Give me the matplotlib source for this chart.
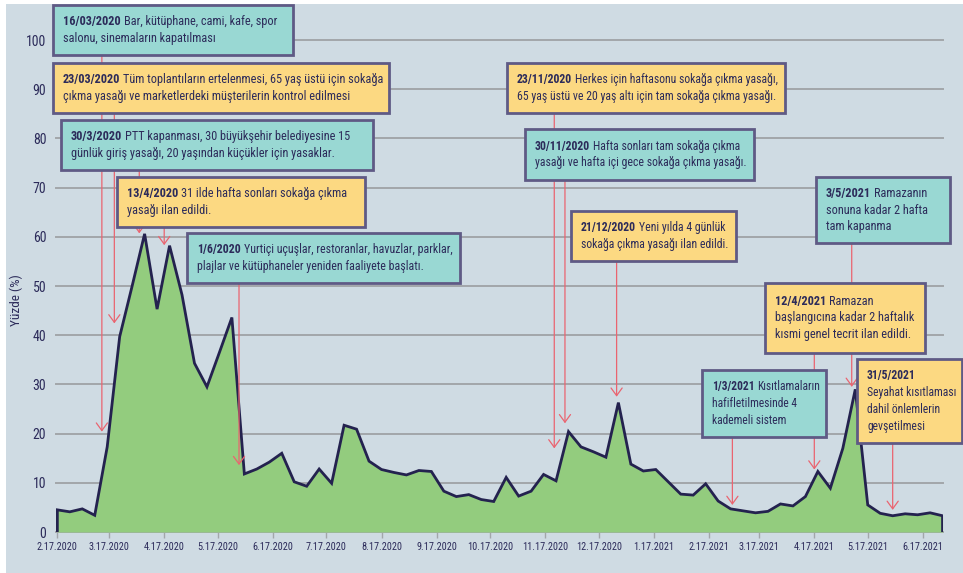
import numpy as np
import pandas as pd
import matplotlib
matplotlib.use("Agg")
import matplotlib.pyplot as plt
from matplotlib import font_manager
from matplotlib.patches import Rectangle

# -----------------------------------------------------------
# DATA (weekly)
# -----------------------------------------------------------
start_date = "2020-02-17"
values = [4.5, 4.1, 4.7, 3.4, 17.3, 39.7, 50.0, 60.6, 45.3, 58.2,
          48.2, 34.3, 29.5, 36.5, 43.6, 11.8, 12.8, 14.2, 16.0, 10.2,
          9.3, 12.8, 9.9, 21.7, 20.9, 14.4, 12.7, 12.1, 11.6, 12.5,
          12.3, 8.3, 7.2, 7.6, 6.6, 6.2, 11.1, 7.3, 8.3, 11.7,
          10.4, 20.4, 17.3, 16.3, 15.2, 26.3, 13.8, 12.4, 12.7, 10.2,
          7.7, 7.5, 9.8, 6.3, 4.7, 4.3, 3.9, 4.2, 5.7, 5.3,
          7.2, 12.3, 8.9, 17.0, 29.0, 5.5, 3.8, 3.3, 3.7, 3.5,
          3.9, 3.3]
yticks = list(range(0, 101, 10))

event_dates = ["16/03/2020", "23/03/2020", "30/3/2020", "13/4/2020", "1/6/2020",
               "23/11/2020", "30/11/2020", "21/12/2020", "3/5/2021", "12/4/2021",
               "1/3/2021", "31/5/2021"]
event_lines = [
    ["Bar, kütüphane, cami, kafe, spor", "salonu, sinemaların kapatılması"],
    ["Tüm toplantıların ertelenmesi, 65 yaş üstü için sokağa",
     "çıkma yasağı ve marketlerdeki müşterilerin kontrol edilmesi"],
    ["PTT kapanması, 30 büyükşehir belediyesine 15",
     "günlük giriş yasağı, 20 yaşından küçükler için yasaklar."],
    ["31 ilde hafta sonları sokağa çıkma", "yasağı ilan edildi."],
    ["Yurtiçi uçuşlar, restoranlar, havuzlar, parklar,",
     "plajlar ve kütüphaneler yeniden faaliyete başlatı."],
    ["Herkes için haftasonu sokağa çıkma yasağı,",
     "65 yaş üstü ve 20 yaş altı için tam sokağa çıkma yasağı."],
    ["Hafta sonları tam sokağa çıkma", "yasağı ve hafta içi gece sokağa çıkma yasağı."],
    ["Yeni yılda 4 günlük", "sokağa çıkma yasağı ilan edildi."],
    ["Ramazanın", "sonuna kadar 2 hafta", "tam kapanma"],
    ["Ramazan", "başlangıcına kadar 2 haftalık", "kısmi genel tecrit ilan edildi."],
    ["Kısıtlamaların", "hafifletilmesinde 4", "kademeli sistem"],
    ["", "Seyahat kısıtlaması", "dahil önlemlerin", "gevşetilmesi"],
]
event_kind = ["teal", "yellow", "teal", "yellow", "teal", "yellow",
              "teal", "yellow", "teal", "yellow", "teal", "yellow"]
# where each pointer lands on the chart (date, %)
pointer_dates = ["2020-03-13", "2020-03-20", "2020-04-03", "2020-04-17", "2020-05-29",
                 "2020-11-22", "2020-11-28", "2020-12-27", "2021-05-08", "2021-04-17",
                 "2021-03-02", "2021-05-31"]
pointer_levels = [20.4, 42.4, 60.7, 58.3, 13.6, 17.0, 22.1, 27.5, 29.5, 12.7, 5.5, 4.5]

# -----------------------------------------------------------
# LAYOUT (pixel boxes: left, top, right, bottom)
# -----------------------------------------------------------
box_px = [(53, 5, 293, 55), (53, 63, 389, 113), (61, 120, 373, 170),
          (117, 177, 365, 227), (187, 233, 460, 283), (507, 63, 785, 113),
          (525, 129, 754, 180), (571, 211, 736, 261), (816, 177, 950, 243),
          (765, 283, 925, 353), (702, 370, 826, 437), (857, 359, 962, 443)]
LINE_STEP = 16.7   # px between text lines in a box

BG = "#cfdbe3"
GREEN = "#93cc7e"
NAVY = "#24224f"
TEXT = "#2c2b5a"
GRID = "#a2a6aa"
BORDER = "#5f5a85"
ARROW = "#ea6470"
FILL = {"teal": "#99d8d3", "yellow": "#fcd982"}

# font: the original is a condensed humanist sans, use a condensed face if one exists
FONT, STRETCH = "Lato", "normal"
entries = font_manager.fontManager.ttflist
for fam in ["Roboto Condensed", "Open Sans Condensed", "Liberation Sans Narrow"]:
    if any(f.name == fam for f in entries):
        FONT = fam
        break
else:
    for fam in ["Roboto", "Noto Sans", "Open Sans", "DejaVu Sans"]:
        if any(f.name == fam and "condensed" in str(f.stretch) for f in entries):
            FONT, STRETCH = fam, "condensed"
            break
plt.rcParams["font.family"] = [FONT, "DejaVu Sans"]
plt.rcParams["font.stretch"] = STRETCH

W, H = 963, 573
fig = plt.figure(figsize=(W / 100, H / 100), dpi=100)
fig.patch.set_facecolor("white")
renderer = fig.canvas.get_renderer()


def fx(px):
    return px / W


def fy(py):
    return 1 - py / H


fig.add_artist(Rectangle((fx(6), 0), 1 - fx(6), fy(4), transform=fig.transFigure,
                         facecolor=BG, edgecolor="none", zorder=-10))

ax = fig.add_axes([fx(56), fy(532), fx(943) - fx(56), fy(40) - fy(532)])
ax.set_facecolor("none")

dates = pd.date_range(start_date, periods=len(values), freq="7D")
ax.fill_between(dates, values, 0, color=GREEN, lw=0, zorder=2)
ax.plot([dates[0]] + list(dates) + [dates[-1]], [0] + values + [0],
        color=NAVY, lw=2.0, zorder=3, solid_joinstyle="miter")

ax.set_xlim(dates[0] - pd.Timedelta(hours=18), dates[-1] + pd.Timedelta(hours=6))
ax.set_ylim(0, 100)

month_ticks = pd.date_range("2020-02-17", "2021-06-17", freq=pd.DateOffset(months=1))
ax.set_xticks(month_ticks)
ax.set_xticklabels([f"{d.month}.{d.day}.{d.year}" for d in month_ticks],
                   fontsize=6.8 if STRETCH == "normal" and FONT == "Lato" else 7.4,
                   color=TEXT)
ax.tick_params(axis="x", length=4, width=1, color=GRID, pad=3)

ax.set_yticks(yticks)
ax.set_yticklabels([str(v) for v in yticks], fontsize=10, color=TEXT)
ax.tick_params(axis="y", length=0, pad=7)
ax.yaxis.grid(True, color=GRID, lw=1.4)
for gl in ax.get_ygridlines():
    gl.set_clip_on(False)
ax.set_axisbelow(True)
for sp in ax.spines.values():
    sp.set_visible(False)

fig.text(fx(16), fy(300), "Yüzde (%)", rotation=90, ha="center", va="center",
         fontsize=9.5, color=TEXT)


# -----------------------------------------------------------
# EVENT BOXES + POINTERS
# -----------------------------------------------------------
def text_width(s, size, weight="normal"):
    t = fig.text(0, 0, s, fontsize=size, fontweight=weight)
    w = t.get_window_extent(renderer).width
    t.remove()
    return w


BASE_SIZE = 8.8
for i, (x0, y0, x1, y1) in enumerate(box_px):
    fig.add_artist(Rectangle((fx(x0), fy(y1)), fx(x1) - fx(x0), fy(y0) - fy(y1),
                             transform=fig.transFigure, facecolor=FILL[event_kind[i]],
                             edgecolor=BORDER, lw=2, zorder=5))

    lines = event_lines[i]
    date = event_dates[i]
    # shrink the text if the longest line would not fit in the box
    size = BASE_SIZE
    avail = (x1 - x0) - 16
    widths = [text_width(date + " ", size, "bold") + text_width(lines[0], size)]
    widths += [text_width(s, size) for s in lines[1:]]
    if max(widths) > avail:
        size *= avail / max(widths)

    n = len(lines)
    yc = (y0 + y1) / 2
    for k, s in enumerate(lines):
        ly = yc + (k - (n - 1) / 2) * LINE_STEP
        lx = x0 + 10
        if k == 0:
            fig.text(fx(lx), fy(ly), date, ha="left", va="center", fontsize=size,
                     fontweight="bold", color=TEXT, zorder=6)
            lx += text_width(date + " ", size, "bold")
        if s:
            fig.text(fx(lx), fy(ly), s, ha="left", va="center", fontsize=size,
                     color=TEXT, zorder=6)

    px_date = pd.Timestamp(pointer_dates[i])
    ax.annotate("", xy=(px_date, pointer_levels[i]), xytext=(px_date, H - y1),
                textcoords=("data", "figure pixels"), annotation_clip=False,
                arrowprops=dict(arrowstyle="->,head_length=0.55,head_width=0.4",
                                color=ARROW, lw=0.9, shrinkA=0, shrinkB=0,
                                mutation_scale=10),
                zorder=4)

fig.savefig("out.png", dpi=100, facecolor=fig.get_facecolor())
